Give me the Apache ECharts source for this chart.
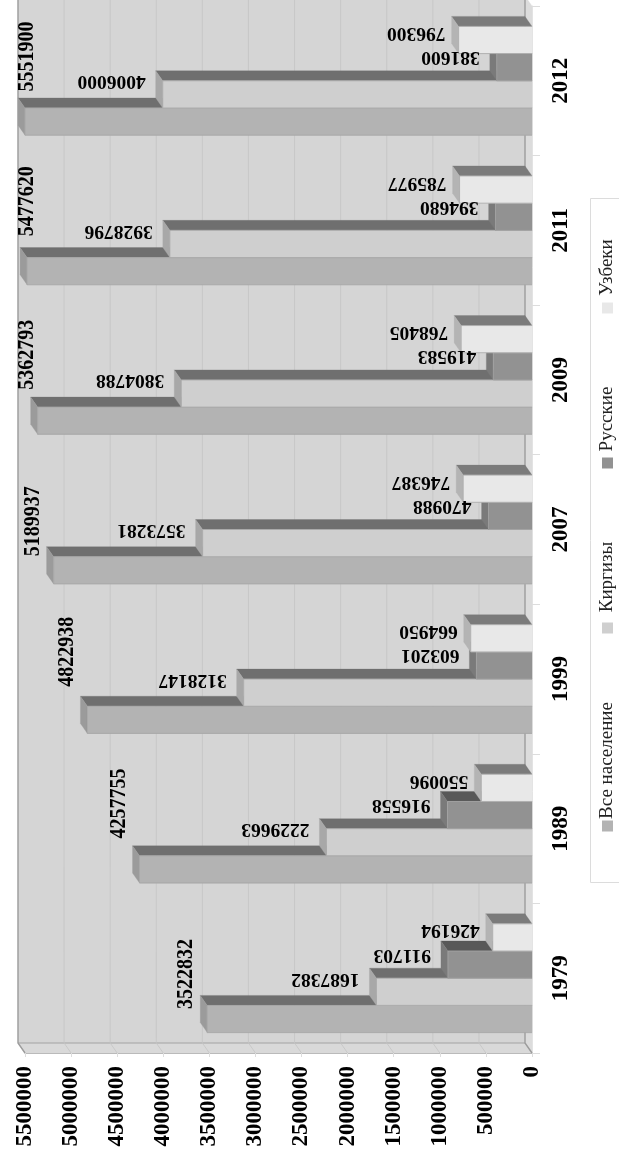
<!DOCTYPE html>
<html>
<head>
<meta charset="utf-8">
<style>html,body{margin:0;padding:0;background:#fff}#c{width:619px;height:1156px}</style>
<script src="https://cdn.jsdelivr.net/npm/echarts@6/dist/echarts.min.js"></script>
</head>
<body>
<div id="c"></div>
<script>
const years = ['1979','1989','1999','2007','2009','2011','2012'];
const seriesNames = ['Все население','Киргизы','Русские','Узбеки'];
const total = [3522832,4257755,4822938,5189937,5362793,5477620,5551900];
const kyrgyz = [1687382,2229663,3128147,3573281,3804788,3928796,4006000];
const russian = [911703,916558,603201,470988,419583,394680,381600];
const uzbek = [426194,550096,664950,746387,768405,785977,796300];
const valueTicks = [0,500000,1000000,1500000,2000000,2500000,3000000,3500000,4000000,4500000,5000000,5500000];

const AXIS_MAX = 5500000;
const FONT = '"Liberation Serif","Times New Roman",serif';
const DX = -7, DY = -10;            // 3-D depth vector
const BAR_SHARE = 27.2 / 149.6;     // one bar as a share of the band
const looks = [
  {front:'#b3b3b3', top:'#6f6f6f', side:'#9b9b9b', centre: 1.5, labelDy:0,  labelDx:0},
  {front:'#cfcfcf', top:'#6f6f6f', side:'#a8a8a8', centre: 0.5, labelDy:-13, labelDx:-10},
  {front:'#929292', top:'#585858', side:'#7a7a7a', centre:-0.5, labelDy:-10, labelDx:-10},
  {front:'#e8e8e8', top:'#7b7b7b', side:'#b4b4b4', centre:-1.5, labelDy:-7,  labelDx:-6}
];
const totalLabelNudge = [-45,-66,-68,-49,-66,-70,-65];
const allValues = [total,kyrgyz,russian,uzbek];

function poly(points, fill){
  return {type:'polygon', shape:{points}, style:{fill, stroke:fill, lineWidth:0.3}};
}

function barRenderer(si){
  const L = looks[si];
  return function(params, api){
    const idx = api.value(1), val = api.value(0);
    const base = api.coord([0, idx]);
    const band = api.size([0,1])[1];
    const h = band * BAR_SHARE;
    const left = api.coord([AXIS_MAX, idx])[0];
    const tip = Math.max(api.coord([val, idx])[0], left);
    const cy = base[1] + L.centre * h;
    const yT = cy - h/2, yB = cy + h/2, x0 = base[0];
    const children = [
      poly([[tip,yT],[x0,yT],[x0+DX,yT+DY],[tip+DX,yT+DY]], L.top),
      poly([[tip,yT],[tip+DX,yT+DY],[tip+DX,yB+DY],[tip,yB]], L.side),
      poly([[tip,yT],[x0,yT],[x0,yB],[tip,yB]], L.front),
      {type:'polyline', shape:{points:[[x0,yT],[tip,yT],[tip,yB],[x0,yB]]}, style:{stroke:'#a6a6a6', lineWidth:0.8, fill:null}}
    ];
    const text = String(val);
    if (si === 0) {
      children.push({type:'text', x:Math.max(tip+DX-14,27), y:cy+totalLabelNudge[params.dataIndex], rotation:Math.PI/2, scaleY:1.18, z2:100,
        style:{text, fill:'#000', font:'bold 20px '+FONT, align:'center', verticalAlign:'middle'}});
    } else {
      children.push({type:'text', x:tip+DX+L.labelDx, y:cy+L.labelDy, rotation:Math.PI, z2:100,
        style:{text, fill:'#000', font:'bold 19.5px '+FONT, align:'left', verticalAlign:'middle'}});
    }
    return {type:'group', children};
  };
}

function wallRenderer(params, api){
  const b = api.coord([0, 0]), band = api.size([0,1])[1];
  const yBottom = b[1] + band/2, yTop = yBottom - band*years.length;
  const xR = b[0], xL = api.coord([AXIS_MAX, 0])[0];
  const kids = [
    poly([[xL+DX,yTop+DY],[xR+DX,yTop+DY],[xR+DX,yBottom+DY],[xL+DX,yBottom+DY]],'#d5d5d5'),
    poly([[xL+DX,yBottom+DY],[xR+DX,yBottom+DY],[xR,yBottom],[xL,yBottom]],'#d9d9d9'),
    poly([[xR+DX,yTop+DY],[xR,yTop],[xR,yBottom],[xR+DX,yBottom+DY]],'#dcdcdc'),
    {type:'polyline', shape:{points:[[xL+DX,yBottom+DY],[xR+DX,yBottom+DY]]}, style:{stroke:'#a3a3a3', lineWidth:1, fill:null}}
  ];
  valueTicks.forEach(v=>{
    const x = api.coord([v,0])[0];
    kids.push({type:'polyline', shape:{points:[[x+DX,yTop+DY],[x+DX,yBottom+DY],[x,yBottom]]},
      style:{stroke: (v===0||v===AXIS_MAX)?'#9c9c9c':'#c4c4c4', lineWidth:(v===0||v===AXIS_MAX)?1.4:0.8, fill:null}});
  });
  return {type:'group', children:kids};
}

const series = [{
  type:'custom', name:'wall', silent:true, z:1, clip:false, renderItem:wallRenderer,
  data:[[0,0]], encode:{x:0,y:1}
}];
allValues.forEach((arr,si)=>{
  series.push({
    type:'custom', name:seriesNames[si], z:5, clip:false, renderItem:barRenderer(si),
    data:arr.map((v,i)=>[v,i]), encode:{x:0,y:1}
  });
});

// rotated legend (bottom-to-top order on the page)
const legendLayout = [{swatch:826,text:760.5},{swatch:628,text:577},{swatch:463,text:419},{swatch:308,text:267.5}];
const legendChildren = [{type:'rect', shape:{x:590.5,y:198.5,width:60,height:684}, style:{fill:'#fff',stroke:'#dcdcdc',lineWidth:1}}];
seriesNames.forEach((n,i)=>{
  legendChildren.push({type:'rect', shape:{x:602,y:legendLayout[i].swatch-5.5,width:11,height:11}, style:{fill:looks[i].front}});
  legendChildren.push({type:'text', x:607.5, y:legendLayout[i].text, rotation:Math.PI/2,
    style:{text:n, fill:'#222', font:'19px '+FONT, align:'center', verticalAlign:'middle'}});
});

const chart = echarts.init(document.getElementById('c'), null, {renderer:'canvas'});
chart.setOption({
  animation:false,
  backgroundColor:'#fff',
  grid:{left:25, right:87, top:6, bottom:103, containLabel:false},
  xAxis:{
    type:'value', inverse:true, min:0, max:AXIS_MAX, interval:500000, position:'bottom',
    splitLine:{show:false},
    axisLine:{show:true,lineStyle:{color:'#b5b5b5'}},
    axisTick:{show:true,length:4,lineStyle:{color:'#ddd'}},
    axisLabel:{rotate:90, margin:13, fontFamily:FONT, fontWeight:'bold', fontSize:23, color:'#000', hideOverlap:false,
      showMinLabel:true, showMaxLabel:true, formatter:v=>String(v)}
  },
  yAxis:{
    type:'category', data:years, position:'right',
    axisLine:{show:true,lineStyle:{color:'#e4e4e4'}},
    axisTick:{show:true,length:8,lineStyle:{color:'#ddd'}},
    axisLabel:{rotate:90, margin:18, fontFamily:FONT, fontWeight:'bold', fontSize:23, color:'#000', interval:0},
    splitLine:{show:false}
  },
  series,
  graphic:{elements:[{type:'group', children:legendChildren, z:10}]}
});
</script>
</body>
</html>
